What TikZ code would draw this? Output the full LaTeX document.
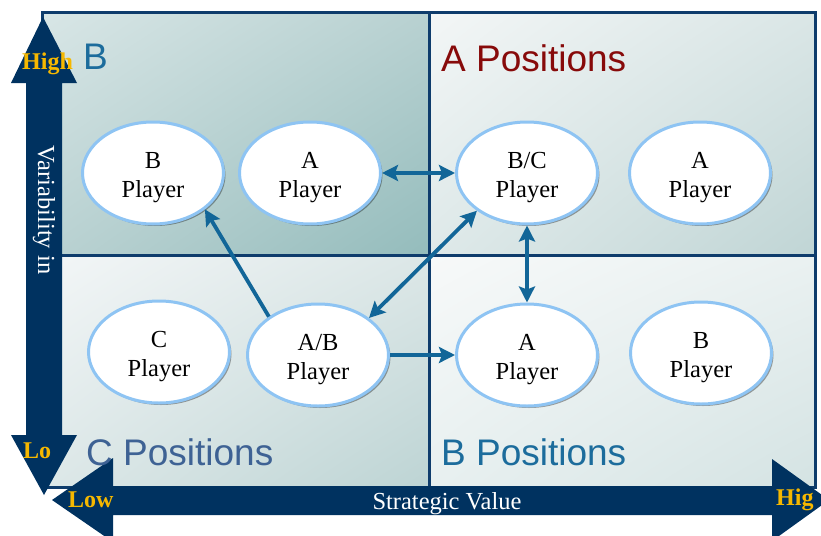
\documentclass[tikz,border=0pt]{standalone}
\usepackage{fontspec}
\setmainfont{Liberation Serif}
\newfontfamily\sansf{Liberation Sans}
\usetikzlibrary{shapes.geometric,arrows.meta,shadows,shadings}
\definecolor{navy}{RGB}{0,50,96}
\definecolor{framec}{RGB}{14,60,108}
\definecolor{linkc}{RGB}{18,102,152}
\definecolor{ellb}{RGB}{142,196,243}
\definecolor{gold}{RGB}{246,184,0}
\definecolor{qblue}{RGB}{28,108,156}
\definecolor{qred}{RGB}{135,10,10}
\definecolor{qgray}{RGB}{62,98,148}
\definecolor{aul}{RGB}{216,230,230}\definecolor{aur}{RGB}{184,209,209}\definecolor{all}{RGB}{186,210,210}\definecolor{alr}{RGB}{148,188,188}
\definecolor{bul}{RGB}{243,246,246}\definecolor{bur}{RGB}{218,230,230}\definecolor{bll}{RGB}{222,233,233}\definecolor{blr}{RGB}{192,213,213}
\definecolor{cul}{RGB}{243,246,247}\definecolor{cur}{RGB}{220,231,231}\definecolor{cll}{RGB}{221,232,232}\definecolor{clr}{RGB}{189,212,212}
\definecolor{dul}{RGB}{247,249,249}\definecolor{dur}{RGB}{234,241,241}\definecolor{dll}{RGB}{232,240,240}\definecolor{dlr}{RGB}{212,227,227}
\newcommand{\plstrut}{\rule{0pt}{26pt}}
\tikzset{
  player/.style={ellipse, draw=ellb, line width=3pt, fill=white, minimum width=141pt, minimum height=102pt, inner sep=0pt, align=center, font=\fontsize{24.5}{29}\selectfont, drop shadow={shadow xshift=2pt, shadow yshift=-2pt, fill=black, opacity=0.35}},
  link/.style={draw=linkc, line width=3.8pt},
  tipx/.tip={Stealth[length=16pt,width=16pt,inset=3pt]},
  axislab/.style={text=gold, font=\bfseries\fontsize{24}{24}\selectfont, inner sep=0pt},
  quadlab/.style={font=\sansf\fontsize{37}{37}\selectfont, inner sep=0pt, anchor=base west},
  axistext/.style={text=white, font=\fontsize{24.5}{24.5}\selectfont, inner sep=0pt}
}
\begin{document}
\begin{tikzpicture}[x=1pt,y=-1pt]
\useasboundingbox (0,0) rectangle (821,535);
% quadrants
\shade[upper left=aul, upper right=aur, lower left=all, lower right=alr] (42,13) rectangle (429,255);
\shade[upper left=bul, upper right=bur, lower left=bll, lower right=blr] (429,13) rectangle (815,255);
\shade[upper left=cul, upper right=cur, lower left=cll, lower right=clr] (42,255) rectangle (429,487);
\shade[upper left=dul, upper right=dur, lower left=dll, lower right=dlr] (429,255) rectangle (815,487);
% frame
\draw[framec, line width=3pt] (42,13) rectangle (815,487);
\draw[framec, line width=3pt] (429,13) -- (429,487);
\draw[framec, line width=3pt] (42,255) -- (815,255);
% axes
\fill[navy] (43,17) -- (77,83) -- (62,83) -- (62,435) -- (77,435) -- (44,495) -- (11,435) -- (26,435) -- (26,83) -- (11,83) -- cycle;
\fill[navy] (52,500) -- (113,458) -- (113,486) -- (772,486) -- (772,459) -- (829,500) -- (772,541) -- (772,515) -- (113,515) -- (113,542) -- cycle;
% axis texts
\node[axislab, anchor=base west] (high) at (22,69) {High};
\node[axislab, anchor=base west] (lo) at (23,458) {Lo};
\node[axislab, anchor=base west] (low) at (68,507) {Low};
\node[axislab, anchor=base west] (hig) at (776,505) {Hig};
\node[axistext, rotate=-90] (vtext) at (44,210) {Variability in};
\node[axistext, anchor=base] (htext) at (447,509) {Strategic Value};
% quadrant labels
\node[quadlab, text=qblue] (qb) at (83,69) {B};
\node[quadlab, text=qred] (qa) at (441,71) {A Positions};
\node[quadlab, text=qgray] (qc) at (86,465) {C Positions};
\node[quadlab, text=qblue] (qbp) at (441,465) {B Positions};
% players
\node[player] (bTL) at (153,173) {\plstrut B\\Player};
\node[player] (aTL) at (310,173) {\plstrut A\\Player};
\node[player] (bc) at (527,173) {\plstrut B/C\\Player};
\node[player] (aTR) at (700,173) {\plstrut A\\Player};
\node[player] (cp) at (159,352) {\plstrut C\\Player};
\node[player] (ab) at (318,355) {\plstrut A/B\\Player};
\node[player] (aBR) at (527,355) {\plstrut A\\Player};
\node[player] (bBR) at (701,353) {\plstrut B\\Player};
% links
\draw[link, {tipx}-{tipx}] (aTL.east) -- (bc.west);
\draw[link, -{tipx}] (ab.142) -- (bTL.-35);
\draw[link, {tipx}-{tipx}] (ab.36) -- (bc.-143);
\draw[link, {tipx}-{tipx}] (bc.south) -- (aBR.north);
\draw[link, -{tipx}] (ab.east) -- (aBR.west);
\end{tikzpicture}
\end{document}
